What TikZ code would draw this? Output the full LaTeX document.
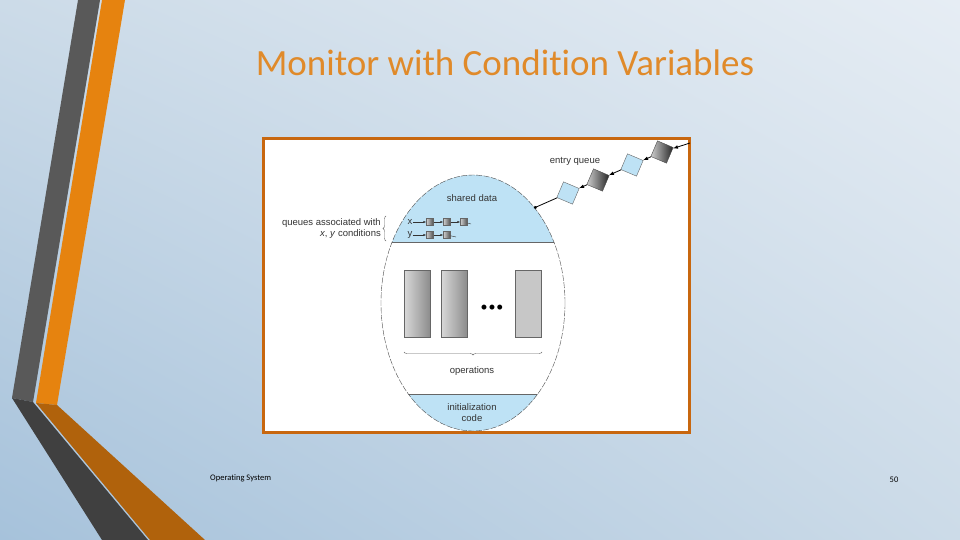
\documentclass[tikz,border=0pt]{standalone}
\usepackage{fontspec}
\setmainfont{Carlito}[Ligatures=NoCommon]
\newfontfamily\diag{Liberation Sans}
\usetikzlibrary{decorations.pathreplacing,arrows.meta,shadings}
\definecolor{bgA}{HTML}{E6EDF4}
\definecolor{bgM}{HTML}{CCDBE8}
\definecolor{bgB}{HTML}{A6C2DB}
\definecolor{stripeG}{HTML}{595959}
\definecolor{stripeGD}{HTML}{404040}
\definecolor{stripeO}{HTML}{E6830F}
\definecolor{stripeOD}{HTML}{B0620C}
\definecolor{frameO}{HTML}{C8670F}
\definecolor{lblue}{HTML}{BEE2F5}
\definecolor{titleC}{HTML}{E08A2A}
\tikzset{
  lbl/.style={font=\diag\fontsize{9.5}{11}\selectfont, text=black!80, inner sep=0pt},
  opbox/.style={draw=black!60, left color=black!15, right color=black!45, line width=0.4pt},
  qlight/.style={draw=black!60, fill=lblue, minimum size=17pt, inner sep=0pt, rotate=-23},
  qdark/.style={draw=black!70, left color=black!20, right color=black!85, minimum size=17pt, inner sep=0pt, rotate=-23},
  sq/.style={draw=black!60, left color=black!20, right color=black!70, minimum size=7pt, inner sep=0pt}
}
\begin{document}
\begin{tikzpicture}[x=1pt,y=-1pt]
\useasboundingbox (0,0) rectangle (960,540);
% background
\shade[upper right=bgA, upper left=bgM, lower right=bgM, lower left=bgB] (0,0) rectangle (960,540);
% stripes
\fill[stripeG] (78,0) -- (100,0) -- (33,402) -- (12,398) -- cycle;
\fill[stripeGD] (12,398) -- (33,402) -- (148,540) -- (102,540) -- cycle;
\fill[stripeO] (102,0) -- (125,0) -- (57,405) -- (36,403) -- cycle;
\fill[stripeOD] (36,403) -- (57,405) -- (205,540) -- (150,540) -- cycle;
% title
\node (title) at (505,63) {\fontsize{37}{40}\selectfont\color{titleC}Monitor with Condition Variables};
% frame
\node[fill=white, draw=frameO, line width=3pt, minimum width=426pt, minimum height=293pt, inner sep=0pt] (frame) at (476,285.5) {};
\begin{scope}
\clip (264.5,140.5) rectangle (687.5,430.5);
\fill[white] (473,303) ellipse (92 and 128);
\begin{scope}
\clip (473,303) ellipse (92 and 128);
\fill[lblue] (370,170) rectangle (580,242);
\fill[lblue] (370,394) rectangle (580,440);
\draw[black!60, line width=0.4pt] (370,242) -- (580,242);
\draw[black!60, line width=0.4pt] (370,394) -- (580,394);
\end{scope}
\draw[black!70, line width=0.4pt, dash pattern=on 6pt off 1.5pt] (473,303) ellipse (92 and 128);
\end{scope}
% text in monitor
\node[lbl] (sd) at (472,198) {shared data};
\node[lbl] (ops) at (472,371) {operations};
\node[lbl, align=center] (init) at (472,413) {initialization\\code};
% operation boxes
\node[opbox, minimum width=26pt, minimum height=67pt, inner sep=0pt] (o1) at (417,303.5) {};
\node[opbox, minimum width=26pt, minimum height=67pt, inner sep=0pt] (o2) at (454,303.5) {};
\node[draw=black!60, fill=black!22, minimum width=26pt, minimum height=67pt, inner sep=0pt] (o3) at (528,303.5) {};
\node[inner sep=0pt] (dots) at (492,308) {\fontsize{14}{14}\selectfont\textbullet\hspace{1pt}\textbullet\hspace{1pt}\textbullet};
\draw[decorate, decoration={brace, mirror, amplitude=3pt}, black!60, line width=0.4pt] (404,352) -- (542,352);
% entry queue
\coordinate (ent) at (534,208);
\coordinate (eq0) at (690,143);
\node[qlight] (q1) at (568,193) {};
\node[qdark] (q2) at (598,180) {};
\node[qlight] (q3) at (632,165) {};
\node[qdark] (q4) at (662,152) {};
\draw[-{Latex[length=5pt]}, black, line width=0.8pt] (eq0) -- (q4);
\draw[-{Latex[length=5pt]}, black, line width=0.8pt] (q4) -- (q3);
\draw[-{Latex[length=5pt]}, black, line width=0.8pt] (q3) -- (q2);
\draw[-{Latex[length=5pt]}, black, line width=0.8pt] (q2) -- (q1);
\draw[-{Circle[length=3pt]}, black, line width=0.8pt] (q1) -- (ent);
\node[lbl] (eql) at (575,161) {entry queue};
% condition queues
\node[lbl, align=right, anchor=east] (ql) at (381,229) {queues associated with\\\textit{x}, \textit{y} conditions};
\draw[decorate, decoration={brace, amplitude=3pt}, black!60, line width=0.4pt] (386,241) -- (386,216);
\node[lbl] (xl) at (410,222) {x};
\node[lbl] (yl) at (410,235) {y};
\node[sq] (x1) at (430,222) {};
\node[sq] (x2) at (447,222) {};
\node[sq] (x3) at (464,222) {};
\node[sq] (y1) at (430,235) {};
\node[sq] (y2) at (447,235) {};
\coordinate (xe) at (471,224);
\coordinate (ye) at (456,237);
\draw[-{Latex[length=3pt]}, black!80, line width=0.4pt] (xl) -- (x1);
\draw[-{Latex[length=3pt]}, black!80, line width=0.4pt] (x1) -- (x2);
\draw[-{Latex[length=3pt]}, black!80, line width=0.4pt] (x2) -- (x3);
\draw[black!80, line width=0.4pt] (x3) -- (xe);
\draw[-{Latex[length=3pt]}, black!80, line width=0.4pt] (yl) -- (y1);
\draw[-{Latex[length=3pt]}, black!80, line width=0.4pt] (y1) -- (y2);
\draw[black!80, line width=0.4pt] (y2) -- (ye);
% footer
\node[font=\fontsize{8.5}{9}\selectfont, anchor=west, inner sep=0pt] (foot) at (210,478) {Operating System};
\node[font=\fontsize{8.5}{9}\selectfont, inner sep=0pt] (pg) at (894,480) {50};
\end{tikzpicture}
\end{document}
